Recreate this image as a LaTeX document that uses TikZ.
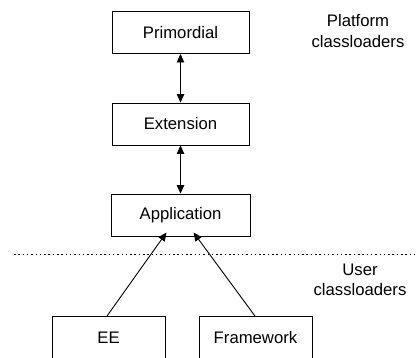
\documentclass[tikz,border=0pt]{standalone}
\usepackage{fontspec}
\setmainfont{Liberation Sans}
\usetikzlibrary{arrows.meta}
\begin{document}
\begin{tikzpicture}[x=1pt,y=-1pt,
  loader/.style={draw,line width=0.9pt,minimum height=42pt,inner sep=0pt,font=\fontsize{16.7}{19}\selectfont},
  note/.style={align=center,font=\fontsize{16.7}{20.5}\selectfont},
  link/.style={line width=0.9pt,{Triangle[length=8.5pt,width=7.5pt]}-{Triangle[length=8.5pt,width=7.5pt]}},
  up/.style={line width=0.9pt,-{Triangle[length=8.5pt,width=7.5pt]}}]
\useasboundingbox (0,0) rectangle (418,357);
\node[loader,minimum width=137pt] (prim) at (180.5,32.5) {Primordial};
\node[loader,minimum width=137pt] (ext) at (180.5,124) {Extension};
\node[loader,minimum width=139pt] (app) at (180.5,215) {Application};
\node[loader,minimum width=113pt] (ee) at (108.5,337.5) {EE};
\node[loader,minimum width=113pt] (fw) at (255.5,337.5) {Framework};
\node[note] (plat) at (358,31) {Platform\\classloaders};
\node[note] (user) at (360,280) {User\\classloaders};
\coordinate (dl) at (14,254);
\coordinate (dr) at (418,254);
\draw[line width=0.9pt,dash pattern=on 1.5pt off 2.8pt] (dl) -- (dr);
\draw[link] (prim.south) -- (ext.north);
\draw[link] (ext.south) -- (app.north);
\draw[up] ([xshift=-1.5pt]ee.north) -- ([xshift=-14pt,yshift=4pt]app.south);
\draw[up] ([xshift=-0.5pt]fw.north) -- ([xshift=13pt,yshift=4pt]app.south);
\end{tikzpicture}
\end{document}
